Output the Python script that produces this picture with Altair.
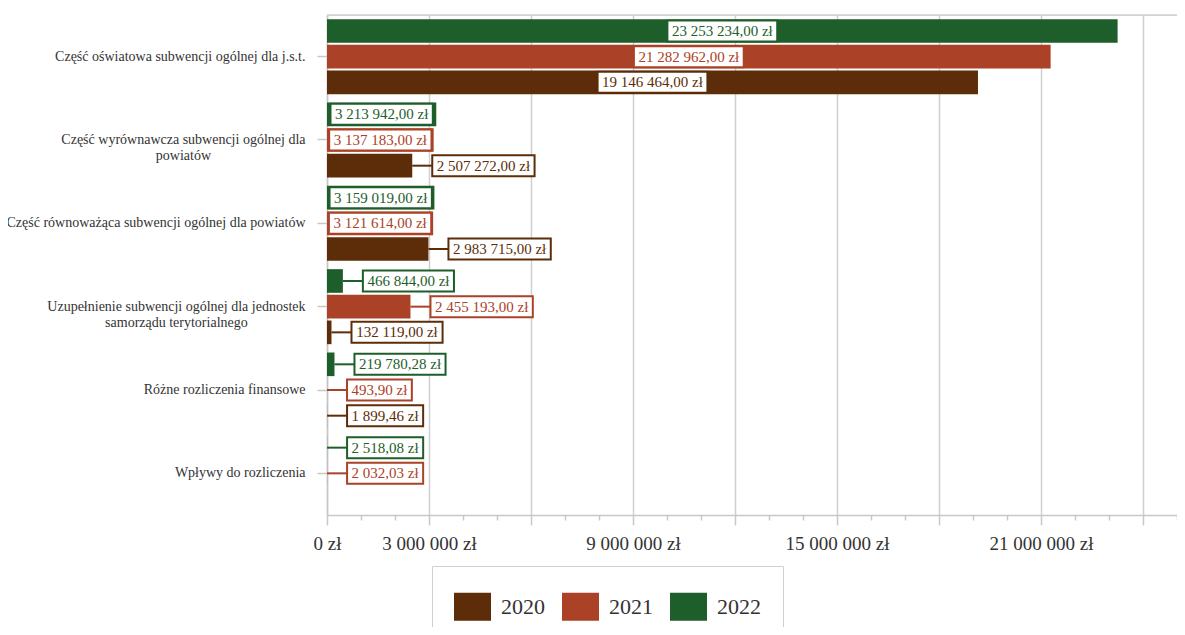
import altair as alt
import numpy as np
import pandas as pd

# ---------------- data ----------------
categories = [
    "Część oświatowa subwencji ogólnej dla j.s.t.",
    "Część wyrównawcza subwencji ogólnej dla powiatów",
    "Część równoważąca subwencji ogólnej dla powiatów",
    "Uzupełnienie subwencji ogólnej dla jednostek samorządu terytorialnego",
    "Różne rozliczenia finansowe",
    "Wpływy do rozliczenia",
]
years = ["2020", "2021", "2022"]
values_2020 = [19146464.00, 2507272.00, 2983715.00, 132119.00, 1899.46, None]
values_2021 = [21282962.00, 3137183.00, 3121614.00, 2455193.00, 493.90, 2032.03]
values_2022 = [23253234.00, 3213942.00, 3159019.00, 466844.00, 219780.28, 2518.08]
x_label_values = [0, 3000000, 9000000, 15000000, 21000000]
x_tick_values = list(range(0, 25000001, 1000000))
colors = ["#5c2d08", "#ab4227", "#1e5e2a"]

# wrapped category labels (layout)
wrapped = {
    "Część wyrównawcza subwencji ogólnej dla powiatów":
        ["Część wyrównawcza subwencji ogólnej dla", "powiatów"],
    "Uzupełnienie subwencji ogólnej dla jednostek samorządu terytorialnego":
        ["Uzupełnienie subwencji ogólnej dla jednostek", "samorządu terytorialnego"],
}

# ---------------- layout / style ----------------
SERIF = "Liberation Serif, Times New Roman, serif"
WIDTH, HEIGHT = 850, 500
X_MAX = 25000000
LABEL_FONT = 15
Y_FONT = 14
BOX_PAD = 4.5
GAP = 20
TICK_Y = 10
PAD_Y = 12

# Times/Liberation Serif advance widths (per 1000 em)
CW = {" ": 250, ",": 250, ".": 250, "z": 444, "ł": 278,
      "a": 444, "b": 500, "c": 444, "d": 500, "e": 444, "f": 333, "g": 500,
      "h": 500, "i": 278, "j": 278, "k": 500, "l": 278, "m": 778, "n": 500,
      "o": 500, "p": 500, "q": 500, "r": 333, "s": 389, "t": 278, "u": 500,
      "v": 500, "w": 722, "x": 500, "y": 500, "ą": 444, "ć": 444, "ę": 444,
      "ń": 500, "ó": 500, "ś": 389, "ź": 444, "ż": 444,
      "C": 667, "R": 667, "U": 722, "W": 944}


def text_width(s, size):
    return sum(CW.get(ch, 500) for ch in s) / 1000.0 * size


def fmt(v):
    return f"{v:,.2f}".replace(",", " ").replace(".", ",") + " zł"


rows = []
for i, c in enumerate(categories):
    for y, vals in zip(years, [values_2020, values_2021, values_2022]):
        v = vals[i]
        if v is None:
            continue
        rows.append({"category": c, "year": y, "value": v})
df = pd.DataFrame(rows)

upp = X_MAX / WIDTH
df["label"] = df["value"].map(fmt)
df["bw"] = df["label"].map(lambda s: text_width(s, LABEL_FONT)) + 2 * BOX_PAD
df["inside"] = (df["value"] / upp) >= df["bw"]
df["box_l"] = np.where(df["inside"], df["value"] / 2 - df["bw"] / 2 * upp,
                       df["value"] + GAP * upp)
df["box_r"] = df["box_l"] + df["bw"] * upp
df["box_c"] = (df["box_l"] + df["box_r"]) / 2

# ---------------- axes ----------------
def js(s):
    return "'" + s.replace("'", "\\'") + "'"

label_expr = "datum.label"
for k, lines in reversed(list(wrapped.items())):
    label_expr = (f"datum.value == {js(k)} ? [" + ",".join(js(l) for l in lines)
                  + f"] : ({label_expr})")

align_cond = {
    "condition": {"test": "indexof([" + ",".join(js(k) for k in wrapped) + "], datum.value) >= 0",
                  "value": "center"},
    "value": "right",
}
pad_cond = {
    "condition": [
        {"test": f"datum.value == {js(k)}",
         "value": PAD_Y + max(text_width(l, Y_FONT) for l in lines) / 2}
        for k, lines in wrapped.items()
    ],
    "value": PAD_Y,
}

y_axis = alt.Axis(title=None, labelFont=SERIF, labelFontSize=Y_FONT, labelColor="#333333",
                  labelLimit=400, labelExpr=label_expr, labelAlign=align_cond,
                  labelPadding=pad_cond, labelLineHeight=16, labelBaseline="middle",
                  tickSize=TICK_Y, tickColor="#c8c8c8", tickWidth=1.5,
                  domainColor="#c8c8c8", domainWidth=1.5, grid=False)

x_lab_list = "[" + ",".join(str(v) for v in x_label_values) + "]"
x_axis = alt.Axis(
    title=None, values=x_tick_values,
    labelExpr=f"indexof({x_lab_list}, datum.value) >= 0 ? "
              "replace(format(datum.value, ','), regexp(',', 'g'), ' ') + ' zł' : ''",
    labelOverlap=False, labelFlush=False, labelFont=SERIF, labelFontSize=19,
    labelColor="#333333", labelPadding=9,
    tickSize={"condition": {"test": "datum.value % 3000000 == 0", "value": 10}, "value": 5},
    tickColor="#c8c8c8", tickWidth=1.5, domainColor="#c8c8c8", domainWidth=1.5,
    grid=True, gridColor="#d0d0d0", gridWidth=1.5,
    gridOpacity={"condition": {"test": "datum.value % 3000000 == 0", "value": 1}, "value": 0},
)

x_scale = alt.Scale(domain=[0, X_MAX], nice=False, zero=True)
y_enc = alt.Y("category:N", sort=categories, axis=y_axis,
              scale=alt.Scale(domain=categories, paddingInner=0.1, paddingOuter=0.05))
yoff_order = ["2022", "2021", "2020"]
yoff = alt.YOffset("year:N", scale=alt.Scale(domain=yoff_order, paddingInner=0.08, paddingOuter=0))
color_scale = alt.Scale(domain=years, range=colors)

base = alt.Chart(df)

bars = base.mark_bar().encode(
    x=alt.X("value:Q", scale=x_scale, axis=x_axis),
    y=y_enc, yOffset=yoff,
    color=alt.Color("year:N", scale=color_scale, legend=alt.Legend(
        title=None, orient="none", legendX=105, legendY=551, direction="horizontal",
        strokeColor="#d0d0d0", fillColor="white", padding=22, cornerRadius=0,
        labelFont=SERIF, labelFontSize=22, labelColor="#333333",
        symbolType="M-1,-0.76H1V0.76H-1Z", symbolSize=1369, symbolStrokeWidth=0,
        symbolOpacity=1, columnPadding=17, labelOffset=10)),
)

leaders = base.transform_filter("!datum.inside").mark_rule(strokeWidth=2).encode(
    x=alt.X("value:Q", scale=x_scale, axis=x_axis),
    x2="box_l:Q",
    y=y_enc, yOffset=yoff,
    color=alt.Color("year:N", scale=color_scale, legend=None),
)

boxes = base.mark_bar(height=21, fill="white", strokeWidth=2).encode(
    x=alt.X("box_l:Q", scale=x_scale, axis=x_axis),
    x2="box_r:Q",
    y=y_enc, yOffset=yoff,
    stroke=alt.Stroke("year:N", scale=color_scale, legend=None),
)

texts = base.mark_text(font=SERIF, fontSize=LABEL_FONT, align="center", baseline="middle").encode(
    x=alt.X("box_c:Q", scale=x_scale, axis=x_axis),
    y=y_enc, yOffset=yoff,
    text="label:N",
    color=alt.Color("year:N", scale=color_scale, legend=None),
)

top = alt.Chart(pd.DataFrame({"a": [0]})).mark_rule(color="#d0d0d0", strokeWidth=1.5).encode(
    x=alt.value(0), x2=alt.value(WIDTH), y=alt.value(0)
)

chart = alt.layer(bars, leaders, boxes, texts, top).properties(
    width=WIDTH, height=HEIGHT,
    autosize=alt.AutoSizeParams(type="none"),
    padding={"left": 319, "top": 7, "right": 0, "bottom": 112},
).configure_view(stroke=None).configure(font=SERIF)

chart.save("out.html", embed_options={"renderer": "svg", "actions": False})
